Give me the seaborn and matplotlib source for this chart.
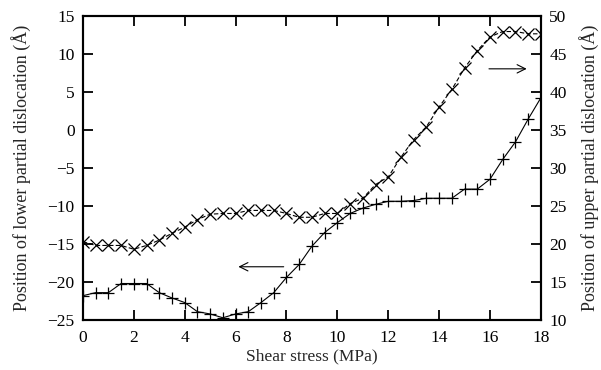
import matplotlib
matplotlib.use("Agg")
import matplotlib.pyplot as plt
import numpy as np
import pandas as pd
import seaborn as sns

sns.set_style("ticks")
plt.rcParams['font.family'] = ['Liberation Serif', 'DejaVu Serif']

# shear stress (MPa), sampled every 0.5
stress = [0, 0.5, 1, 1.5, 2, 2.5, 3, 3.5, 4, 4.5, 5, 5.5, 6, 6.5, 7, 7.5, 8, 8.5,
          9, 9.5, 10, 10.5, 11, 11.5, 12, 12.5, 13, 13.5, 14, 14.5, 15, 15.5, 16,
          16.5, 17, 17.5, 18]

# lower partial (left axis, "+")
lower = [-21.8, -21.4, -21.4, -20.2, -20.2, -20.2, -21.4, -22.1, -22.7, -23.9,
         -24.2, -24.7, -24.2, -23.9, -22.7, -21.4, -19.4, -17.7, -15.3, -13.5,
         -12.2, -11.0, -10.3, -9.8, -9.4, -9.4, -9.3, -9.0, -9.0, -9.0, -7.8,
         -7.8, -6.5, -3.9, -1.6, 1.4, 4.2]

# upper partial (right axis, "x")
upper = [20.3, 19.8, 19.8, 19.8, 19.3, 19.8, 20.5, 21.4, 22.2, 23.2, 23.9, 24.0,
         24.0, 24.4, 24.4, 24.4, 24.0, 23.5, 23.5, 24.0, 24.0, 25.3, 26.0, 27.8,
         28.8, 31.4, 33.7, 35.4, 38.0, 40.3, 43.1, 45.4, 47.2, 47.9, 47.9, 47.6,
         47.6]

df = pd.DataFrame({"stress": stress, "lower": lower, "upper": upper})

fig = plt.figure(figsize=(6.01, 3.70), dpi=100)
ax = fig.add_axes([0.138, 0.135, 0.762, 0.823])
ax2 = ax.twinx()

sns.lineplot(data=df, x="stress", y="lower", ax=ax, color="black", lw=0.8,
             marker="+", markersize=8.5, markeredgewidth=0.9, markeredgecolor="black")
sns.lineplot(data=df, x="stress", y="upper", ax=ax2, color="black", lw=0.8,
             linestyle=(0, (4, 2)), marker="x", markersize=8.5, markeredgewidth=0.9,
             markeredgecolor="black")

ax.set_xlim(0, 18)
ax.set_ylim(-25, 15)
ax2.set_ylim(10, 50)
ax.set_xticks(np.arange(0, 19, 2))
ax.set_yticks(np.arange(-25, 16, 5))
ax2.set_yticks(np.arange(10, 51, 5))

ax.set_xlabel("Shear stress (MPa)", fontsize=12.5, labelpad=2)
ax.set_ylabel("Position of lower partial dislocation (Å)", fontsize=13, labelpad=12)
ax2.set_ylabel("Position of upper partial dislocation (Å)", fontsize=13, labelpad=9)

for a in (ax, ax2):
    for s in a.spines.values():
        s.set_linewidth(1.5)
        s.set_color("black")
    a.tick_params(direction="in", length=7, width=1.3, labelsize=12.5, colors="black")
ax.tick_params(axis="x", pad=7)
ax.tick_params(axis="y", pad=6)
ax2.tick_params(axis="y", pad=6)
ax.tick_params(top=True, right=False)
ax2.tick_params(right=True)

# direction arrows
ax.annotate("", xy=(6.0, -18), xytext=(8.0, -18),
            arrowprops=dict(arrowstyle="->", lw=0.8, color="black", mutation_scale=15))
ax2.annotate("", xy=(17.55, 43.0), xytext=(15.85, 43.0),
             arrowprops=dict(arrowstyle="->", lw=0.8, color="black", mutation_scale=15))

fig.savefig("out.png", dpi=100)
